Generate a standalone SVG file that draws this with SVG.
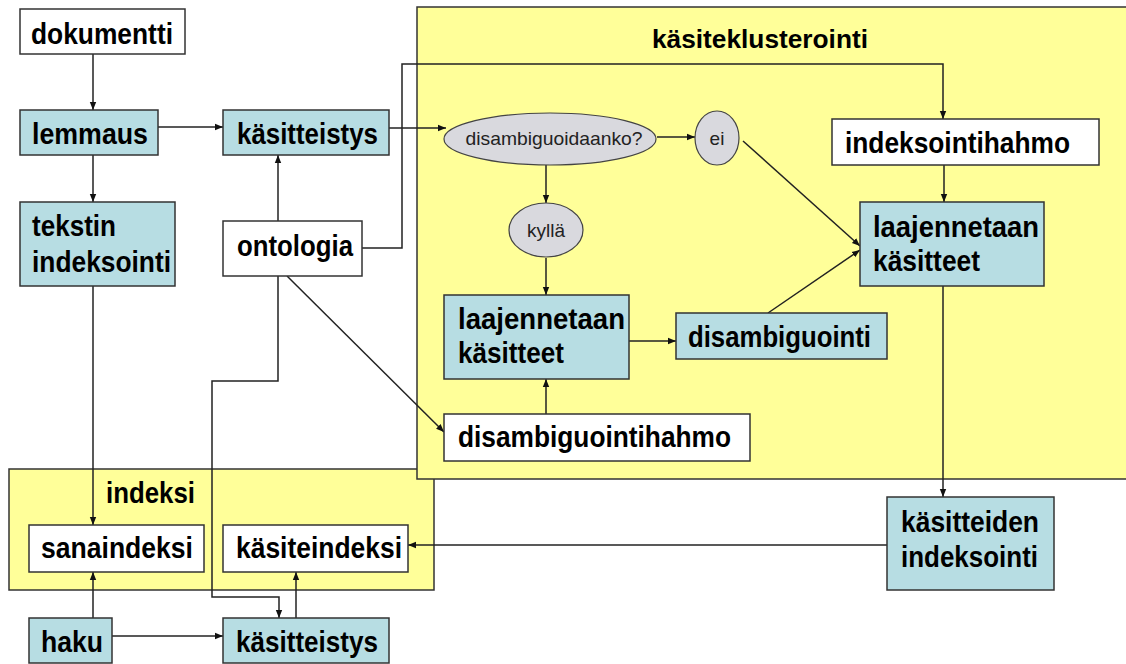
<svg xmlns="http://www.w3.org/2000/svg" width="1126" height="664" viewBox="0 0 1126 664">
<defs>
<marker id="ah" viewBox="0 0 10 10" refX="10" refY="5" markerWidth="8" markerHeight="8" markerUnits="userSpaceOnUse" orient="auto"><path d="M0,1 L10,5 L0,9 z" fill="#111"/></marker>
<style>
.blue{fill:#b7dde3;stroke:#333;stroke-width:1.5}
.white{fill:#fff;stroke:#333;stroke-width:1.5}
.yel{fill:#ffff99;stroke:#333;stroke-width:1.5}
.ell{fill:#d9d9de;stroke:#444;stroke-width:1.2}
.t{font-family:"Liberation Sans",Arial,sans-serif;font-weight:bold;font-size:29px;fill:#000}
.s{font-family:"Liberation Sans",Arial,sans-serif;font-size:19px;fill:#222}
.c{fill:none;stroke:#222;stroke-width:1.5;marker-end:url(#ah)}
</style>
</defs>
<rect width="1126" height="664" fill="#fff"/>
<g id="indeksi-group">
<rect class="yel" x="9" y="469" width="425" height="121"/>
<text class="t" x="106" y="503" textLength="89" lengthAdjust="spacingAndGlyphs">indeksi</text>
</g>
<g id="kasiteklusterointi-group">
<rect class="yel" x="417" y="7" width="715" height="472"/>
<text class="t" x="652" y="48" style="font-size:25px" textLength="216" lengthAdjust="spacingAndGlyphs">käsiteklusterointi</text>
</g>
<g id="connectors">
<line class="c" x1="93" y1="54" x2="93" y2="110"/>
<line class="c" x1="93" y1="155" x2="93" y2="202"/>
<line class="c" x1="158" y1="127" x2="223" y2="127"/>
<line class="c" x1="278" y1="221" x2="278" y2="155"/>
<line class="c" x1="389" y1="128" x2="446" y2="128"/>
<polyline class="c" points="362,248 402,248 402,64 943,64 943,119"/>
<line class="c" x1="657" y1="137" x2="695" y2="137"/>
<line class="c" x1="546" y1="165" x2="546" y2="203"/>
<line class="c" x1="743" y1="141" x2="860" y2="246"/>
<line class="c" x1="944" y1="165" x2="944" y2="202"/>
<line class="c" x1="546" y1="258" x2="546" y2="295"/>
<line class="c" x1="629" y1="341" x2="676" y2="341"/>
<line class="c" x1="768" y1="313" x2="860" y2="250"/>
<line class="c" x1="546" y1="414" x2="546" y2="379"/>
<line class="c" x1="287" y1="276" x2="444" y2="432"/>
<line class="c" x1="943" y1="286" x2="943" y2="497"/>
<line class="c" x1="887" y1="545" x2="408" y2="545"/>
<line class="c" x1="93" y1="286" x2="93" y2="525"/>
<line class="c" x1="93" y1="618" x2="93" y2="572"/>
<line class="c" x1="112" y1="636" x2="223" y2="636"/>
<line class="c" x1="296" y1="618" x2="296" y2="572"/>
<polyline class="c" points="278,276 278,381 212,381 212,597 279,597 279,618"/>
</g>
<g id="dokumentti"><rect class="white" x="20" y="9" width="165" height="45"/><text class="t" x="31" y="44" textLength="142" lengthAdjust="spacingAndGlyphs">dokumentti</text></g>
<g id="lemmaus"><rect class="blue" x="20" y="110" width="138" height="45"/><text class="t" x="32" y="144" textLength="116" lengthAdjust="spacingAndGlyphs">lemmaus</text></g>
<g id="tekstin-indeksointi"><rect class="blue" x="20" y="202" width="155" height="84"/><text class="t" x="32" y="236" textLength="84" lengthAdjust="spacingAndGlyphs">tekstin</text><text class="t" x="32" y="272" textLength="139" lengthAdjust="spacingAndGlyphs">indeksointi</text></g>
<g id="kasitteistys-top"><rect class="blue" x="223" y="110" width="166" height="45"/><text class="t" x="237" y="144" textLength="141" lengthAdjust="spacingAndGlyphs">käsitteistys</text></g>
<g id="ontologia"><rect class="white" x="223" y="221" width="139" height="55"/><text class="t" x="237" y="256" textLength="116" lengthAdjust="spacingAndGlyphs">ontologia</text></g>
<g id="disambiguoidaanko"><ellipse class="ell" cx="550" cy="139" rx="106" ry="26"/><text class="s" x="554" y="145" text-anchor="middle" textLength="177" lengthAdjust="spacingAndGlyphs">disambiguoidaanko?</text></g>
<g id="ei"><ellipse class="ell" cx="717" cy="138" rx="22" ry="27"/><text class="s" x="717" y="145" text-anchor="middle">ei</text></g>
<g id="kylla"><ellipse class="ell" cx="546" cy="230" rx="37" ry="27"/><text class="s" x="546" y="237" text-anchor="middle">kyllä</text></g>
<g id="indeksointihahmo"><rect class="white" x="832" y="119" width="267" height="46"/><text class="t" x="845" y="153" textLength="225" lengthAdjust="spacingAndGlyphs">indeksointihahmo</text></g>
<g id="laajennetaan-right"><rect class="blue" x="860" y="202" width="184" height="84"/><text class="t" x="873" y="237" textLength="166" lengthAdjust="spacingAndGlyphs">laajennetaan</text><text class="t" x="873" y="271" textLength="107" lengthAdjust="spacingAndGlyphs">käsitteet</text></g>
<g id="laajennetaan-left"><rect class="blue" x="444" y="295" width="185" height="84"/><text class="t" x="458" y="329" textLength="167" lengthAdjust="spacingAndGlyphs">laajennetaan</text><text class="t" x="458" y="363" textLength="106" lengthAdjust="spacingAndGlyphs">käsitteet</text></g>
<g id="disambiguointi"><rect class="blue" x="676" y="313" width="211" height="46"/><text class="t" x="688" y="347" textLength="183" lengthAdjust="spacingAndGlyphs">disambiguointi</text></g>
<g id="disambiguointihahmo"><rect class="white" x="444" y="414" width="306" height="47"/><text class="t" x="458" y="447" textLength="273" lengthAdjust="spacingAndGlyphs">disambiguointihahmo</text></g>
<g id="kasitteiden-indeksointi"><rect class="blue" x="887" y="497" width="167" height="93"/><text class="t" x="901" y="532" textLength="138" lengthAdjust="spacingAndGlyphs">käsitteiden</text><text class="t" x="901" y="567" textLength="137" lengthAdjust="spacingAndGlyphs">indeksointi</text></g>
<g id="sanaindeksi"><rect class="white" x="29" y="525" width="175" height="47"/><text class="t" x="41" y="558" textLength="152" lengthAdjust="spacingAndGlyphs">sanaindeksi</text></g>
<g id="kasiteindeksi"><rect class="white" x="223" y="525" width="185" height="47"/><text class="t" x="236" y="558" textLength="166" lengthAdjust="spacingAndGlyphs">käsiteindeksi</text></g>
<g id="haku"><rect class="blue" x="29" y="618" width="83" height="45"/><text class="t" x="41" y="652" textLength="62" lengthAdjust="spacingAndGlyphs">haku</text></g>
<g id="kasitteistys-bottom"><rect class="blue" x="223" y="618" width="166" height="45"/><text class="t" x="236" y="652" textLength="142" lengthAdjust="spacingAndGlyphs">käsitteistys</text></g>
</svg>
